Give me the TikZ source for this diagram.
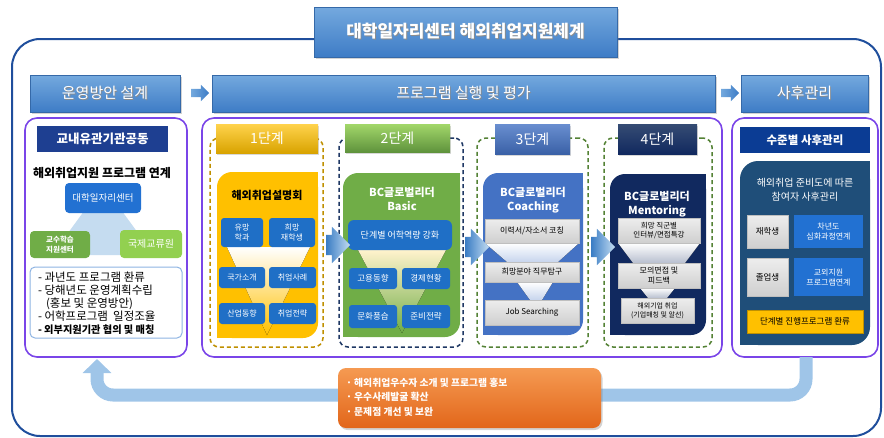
\documentclass[tikz,border=0pt]{standalone}
\usepackage{fontspec}
\setmainfont{Noto Sans CJK KR}
\usetikzlibrary{shadows,shapes.arrows,arrows.meta}
\definecolor{frameC}{HTML}{1F4E9C}
\definecolor{hdrT}{HTML}{74A9DE}
\definecolor{hdrB}{HTML}{3E7CC6}
\definecolor{panelC}{HTML}{7A45E8}
\definecolor{navyA}{HTML}{1E3F91}
\definecolor{blueB}{HTML}{2271D2}
\definecolor{triLB}{HTML}{C5DCF0}
\definecolor{gA}{HTML}{70AD47}
\definecolor{gB}{HTML}{92D050}
\definecolor{lbB}{HTML}{8EB4E3}
\definecolor{goldD}{HTML}{BF9000}
\definecolor{yelC}{HTML}{FFC000}
\definecolor{boxBl}{HTML}{1F6FC6}
\definecolor{navyD}{HTML}{1F3864}
\definecolor{grnC}{HTML}{70AD47}
\definecolor{grnD}{HTML}{548235}
\definecolor{bluC}{HTML}{4472C4}
\definecolor{navC}{HTML}{11295F}
\definecolor{slateC}{HTML}{1F4E79}
\definecolor{p3hC}{HTML}{0B3C94}
\definecolor{orT}{HTML}{F59A52}
\definecolor{orB}{HTML}{E2661A}
\definecolor{loopC}{HTML}{9FC5E8}
\definecolor{arrL}{HTML}{3A7CC4}
\definecolor{arrR}{HTML}{C3DCF2}
\definecolor{greyT}{HTML}{EDEDED}
\definecolor{greyB}{HTML}{CFCFCF}
\newcommand\fsz[2]{\fontsize{#1}{#2}\selectfont}
\newcommand\tsh[1]{\makebox[0pt][l]{\raisebox{-0.9pt}{\hspace{0.9pt}\textcolor{black!45}{#1}}}#1}
\newcommand\mkbox[7]{\node[#6, minimum width={(#4)-(#2)}, minimum height={(#5)-(#3)}] (#1) at ({((#2)+(#4))/2},{((#3)+(#5))/2}) {#7};}
\newcommand\diagbox[6]{%
 \fill[#5, rounded corners=#6pt] (#1,#2) rectangle (#3,#4);
 \fill[#5] ({(#3)-(#6)},#2) rectangle (#3,{(#2)+(#6)});
 \fill[#5] (#1,{(#4)-(#6)}) rectangle ({(#1)+(#6)},#4);}
\tikzset{
 every node/.style={inner sep=0pt, outer sep=0pt},
 hdr/.style={rectangle, top color=hdrT, bottom color=hdrB, draw=hdrB!85!black, line width=0.4,
   drop shadow={shadow xshift=1.5pt, shadow yshift=-2pt, opacity=0.35}, text=white, font=\fsz{15}{18}},
 harr/.style={single arrow, single arrow head extend=4pt, inner xsep=0pt, inner ysep=4pt,
   minimum height=18, minimum width=16, left color=hdrT, right color=hdrB},
 sarr/.style={single arrow, single arrow head extend=8pt, inner xsep=0pt, inner ysep=10pt,
   minimum height=24, minimum width=36, left color=arrL, right color=arrR},
 panel/.style={rectangle, draw=panelC, line width=1.6, rounded corners=12pt, fill=white},
 dashbox/.style={rectangle, fill=none, line width=1.5, dash pattern=on 4pt off 3pt, rounded corners=9pt},
 stg/.style={rectangle, text=white, font=\fsz{14}{16}, drop shadow={shadow xshift=1.2pt, shadow yshift=-1.5pt, opacity=0.3}},
 bbox/.style={rectangle, fill=boxBl, rounded corners=3pt, text=white, align=center, font=\fsz{8}{10}},
 gbox/.style={rectangle, top color=greyT, bottom color=greyB, draw=black!25, line width=0.4, text=black, align=center, font=\fsz{8}{10}},
 ttl/.style={text=white, align=center, font=\bfseries\fsz{11}{14.5}},
}
\begin{document}
\begin{tikzpicture}[x=1pt, y=-1pt]
\useasboundingbox (0,0) rectangle (884,437);
% outer frame
\draw[frameC, line width=2, rounded corners=28pt] (12,39) rectangle (881,436);
% title and header row
\mkbox{title}{314}{7}{617}{57}{hdr, font=\bfseries\fsz{17}{20}}{\tsh{대학일자리센터 해외취업지원체계}}
\mkbox{h1}{30}{75}{180}{112}{hdr}{\tsh{운영방안 설계}}
\mkbox{h2}{212}{75}{715}{112}{hdr}{\tsh{프로그램 실행 및 평가}}
\mkbox{h3}{741}{75}{868}{112}{hdr}{\tsh{사후관리}}
\node[harr] (ha1) at (198,93) {};
\node[harr] (ha2) at (728,93) {};
% panels
\mkbox{p1}{25}{118}{187}{357}{panel}{}
\mkbox{p2}{202}{118}{722}{357}{panel}{}
\mkbox{p3}{732}{118}{878}{357}{panel}{}
% ---------- panel 1
\mkbox{p1h}{37}{126}{168}{152}{rectangle, fill=navyA, text=white, font=\bfseries\fsz{12.5}{14}}{교내유관기관공동}
\node[font=\bfseries\fsz{12}{14}] (p1t) at (102,173) {해외취업지원 프로그램 연계};
\fill[triLB] (103,185) -- (52,255) -- (154,255) -- cycle;
\mkbox{jc}{65}{183}{141}{213}{rectangle, fill=blueB, rounded corners=4pt, text=white, font=\fsz{9.5}{11}}{대학일자리센터}
\mkbox{ctl}{30}{231}{90}{258}{rectangle, fill=gA, rounded corners=4pt, text=white, align=center, font=\bfseries\fsz{7.5}{9.5}}{교수학습\\지원센터}
\mkbox{oia}{120}{230}{182}{258}{rectangle, fill=gB, rounded corners=4pt, text=white, font=\fsz{10}{12}}{국제교류원}
\mkbox{lst}{30}{267}{182}{338}{rectangle, draw=lbB, line width=1, rounded corners=5pt}{}
\node[anchor=west, align=left, font=\fsz{11.5}{13}] (lstt) at (38,303.5) {- 과년도 프로그램 환류\\- 당해년도 운영계획수립\\\hspace{0.7em}(홍보 및 운영방안)\\- 어학프로그램\ \ 일정조율\\{\bfseries\fsz{10.2}{13}- 외부지원기관 협의 및 매칭}};
% ---------- stage 1
\mkbox{d1}{210}{138}{323}{347}{dashbox, draw=goldD}{}
\mkbox{s1}{216}{124}{318}{153}{stg, top color=yelC!70!white, bottom color=yelC!85!black}{1단계}
\diagbox{217}{172}{318}{338}{yelC}{15}
\node[font=\bfseries\fsz{11}{13}] (s1t) at (267,195) {해외취업설명회};
\fill[top color=white, bottom color=yelC] (227,247) -- (310,247) -- (267,335) -- cycle;
\mkbox{b11}{221}{218}{263}{247}{bbox}{유망\\학과}
\mkbox{b12}{269}{218}{315}{247}{bbox}{희망\\재학생}
\mkbox{b13}{219}{267}{265}{288}{bbox}{국가소개}
\mkbox{b14}{269}{267}{316}{288}{bbox}{취업사례}
\mkbox{b15}{219}{303}{265}{324}{bbox}{산업동향}
\mkbox{b16}{269}{303}{316}{324}{bbox}{취업전략}
% ---------- stage 2
\mkbox{d2}{339}{138}{463}{347}{dashbox, draw=navyD}{}
\mkbox{s2}{345}{124}{450}{152}{stg, top color=gB!85!white, bottom color=grnC!85!black}{2단계}
\diagbox{343}{173}{460}{337}{grnC}{15}
\node[ttl] (s2t) at (402,199) {BC글로벌리더\\Basic};
\fill[top color=white!80!yelC, bottom color=grnC] (358,250) -- (446,250) -- (402,333) -- cycle;
\mkbox{b21}{348}{220}{452}{250}{bbox, rounded corners=6pt, font=\fsz{9}{10}}{단계별 어학역량 강화}
\mkbox{b22}{349}{268}{397}{289}{bbox, font=\fsz{8.5}{10}}{고용동향}
\mkbox{b23}{402}{268}{450}{289}{bbox, font=\fsz{8.5}{10}}{경제현황}
\mkbox{b24}{349}{305}{397}{328}{bbox, font=\fsz{8.5}{10}}{문화풍습}
\mkbox{b25}{402}{305}{450}{328}{bbox, font=\fsz{8.5}{10}}{준비전략}
% ---------- stage 3
\mkbox{d3}{477}{138}{588}{347}{dashbox, draw=grnD}{}
\mkbox{s3}{495}{124}{570}{154}{stg, top color=bluC!80!white, bottom color=bluC!85!black}{3단계}
\diagbox{483}{173}{583}{335}{bluC}{15}
\node[ttl] (s3t) at (533,200) {BC글로벌리더\\Coaching};
\fill[top color=white, bottom color=bluC!30!white] (485,243) -- (579,243) -- (558,262) -- (507,262) -- cycle;
\fill[top color=white, bottom color=bluC!30!white] (517,282) -- (553,282) -- (542,300) -- (530,300) -- cycle;
\mkbox{b31}{485}{219}{579}{243}{gbox}{이력서/자소서 코칭}
\mkbox{b32}{485}{262}{579}{282}{gbox}{희망분야 직무탐구}
\mkbox{b33}{485}{300}{579}{325}{gbox}{Job Searching}
% ---------- stage 4
\mkbox{d4}{604}{138}{712}{347}{dashbox, draw=grnD}{}
\mkbox{s4}{618}{124}{697}{154}{stg, top color=navyD!90!white, bottom color=navC}{4단계}
\diagbox{610}{174}{706}{335}{navC}{15}
\node[ttl] (s4t) at (657,204) {BC글로벌리더\\Mentoring};
\fill[top color=white, bottom color=navC!30!white] (618,243) -- (700,243) -- (685,263) -- (633,263) -- cycle;
\fill[top color=white, bottom color=navC!30!white] (640,288) -- (675,288) -- (667,298) -- (648,298) -- cycle;
\mkbox{b41}{618}{218}{700}{243}{gbox, font=\fsz{7.5}{9.5}}{희망 직군별\\인터뷰/면접특강}
\mkbox{b42}{618}{263}{700}{288}{gbox, font=\fsz{8}{10}}{모의면접 및\\피드백}
\mkbox{b43}{621}{298}{694}{323}{gbox, font=\fsz{7}{9}}{해외기업 취업\\(기업매칭 및 알선)}
% stage arrows
\node[sarr] (sa1) at (333,245) {};
\node[sarr] (sa2) at (472,247) {};
\node[sarr] (sa3) at (598,247) {};
% ---------- panel 3
\mkbox{p3h}{740}{127}{870}{153}{rectangle, fill=p3hC, text=white, font=\bfseries\fsz{11.5}{13}}{수준별 사후관리}
\diagbox{740}{161}{870}{345}{slateC}{18}
\node[text=white, align=center, font=\fsz{10}{14}] (p3t) at (805,190) {해외취업 준비도에 따른\\참여자 사후관리};
\mkbox{b51}{747}{215}{788}{248}{gbox, font=\fsz{8.5}{10}}{재학생}
\mkbox{b52}{794}{215}{863}{248}{bbox, fill=blueB, rounded corners=0pt}{차년도\\심화과정연계}
\mkbox{b53}{747}{258}{788}{296}{gbox, font=\fsz{8.5}{10}}{졸업생}
\mkbox{b54}{794}{258}{863}{296}{bbox, fill=blueB, rounded corners=0pt}{교외지원\\프로그램연계}
\mkbox{b55}{747}{310}{863}{333}{rectangle, fill=yelC, draw=goldD, line width=0.4, font=\fsz{8.5}{10}}{단계별 진행프로그램 환류}
% ---------- feedback loop
\coordinate (l1) at (806,357);
\coordinate (l2) at (97,359);
\draw[loopC, line width=13, rounded corners=16pt, -{Triangle[width=28pt,length=14pt]}] (l1) -- (806,395) -- (97,395) -- (l2);
\mkbox{ob}{338}{368}{601}{428}{rectangle, rounded corners=8pt, top color=orT, bottom color=orB, drop shadow={shadow xshift=1.5pt, shadow yshift=-2pt, opacity=0.35}}{}
\node[anchor=west, align=left, text=white, font=\bfseries\fsz{9.8}{14.5}] (obt) at (346,397) {· 해외취업우수자 소개 및 프로그램 홍보\\· 우수사례발굴 확산\\· 문제점 개선 및 보완};
\end{tikzpicture}
\end{document}
